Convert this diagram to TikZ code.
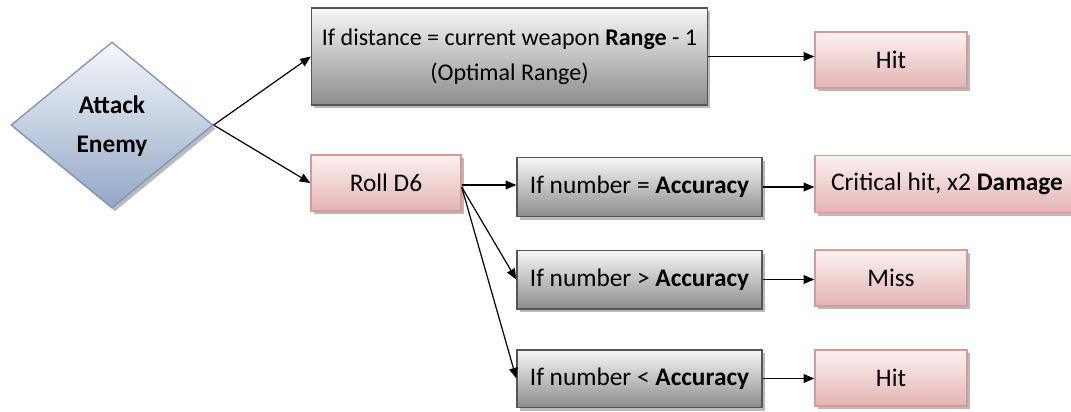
\documentclass[tikz,border=0pt]{standalone}
\usepackage{fontspec}
\setmainfont{Carlito}
\usetikzlibrary{shapes.geometric,shadows,arrows.meta}
\definecolor{grayedge}{HTML}{555555}
\definecolor{graytop}{HTML}{F7F7F7}
\definecolor{graybot}{HTML}{8C8C8C}
\definecolor{pinkedge}{HTML}{D69A99}
\definecolor{pinktop}{HTML}{FDF1F1}
\definecolor{pinkbot}{HTML}{E2B4B3}
\definecolor{blueedge}{HTML}{7D95B8}
\definecolor{bluetop}{HTML}{F6F8FB}
\definecolor{bluebot}{HTML}{93A7C6}
\tikzset{
  base/.style={draw, line width=1pt, inner sep=2pt, align=center,
    font=\fontsize{19}{26.5}\selectfont,
    drop shadow={shadow xshift=2.2pt, shadow yshift=-2.6pt, opacity=0.45, fill=black!60}},
  graybox/.style={base, rectangle, draw=grayedge, top color=graytop, bottom color=graybot},
  pinkbox/.style={base, rectangle, draw=pinkedge, top color=pinktop, bottom color=pinkbot},
  decision/.style={base, diamond, draw=blueedge, top color=bluetop, bottom color=bluebot,
    inner sep=0pt, font=\fontsize{19}{29}\selectfont\bfseries},
  conn/.style={line width=0.9pt, -{Triangle[length=8pt,width=6.5pt]}}
}
\begin{document}
\begin{tikzpicture}[x=0.75pt,y=-0.75pt]
\useasboundingbox (0,0) rectangle (1071,411);
\node[decision, minimum width=151.5pt, minimum height=124.5pt] (att) at (112,125)
  {\raisebox{-4pt}{\begin{tabular}{@{}c@{}}Attack\\Enemy\end{tabular}}};
\node[graybox, inner sep=0pt, font=\fontsize{18}{26.5}\selectfont, minimum width=297pt, minimum height=72.75pt] (dist) at (509.5,56.5)
  {If distance = current weapon \textbf{Range} - 1\\(Optimal Range)};
\node[pinkbox, minimum width=114pt, minimum height=42pt] (hit1) at (891,60) {Hit};
\node[pinkbox, minimum width=112.5pt, minimum height=42pt] (roll) at (386,183) {Roll D6};
\node[graybox, minimum width=183.75pt, minimum height=44pt] (eq) at (639.5,187) {If number = \textbf{Accuracy}};
\node[graybox, minimum width=183.75pt, minimum height=44pt] (gt) at (639.5,279.5) {If number > \textbf{Accuracy}};
\node[graybox, minimum width=183.75pt, minimum height=43pt] (lt) at (639.5,378.5) {If number < \textbf{Accuracy}};
\node[pinkbox, minimum width=198pt, minimum height=42.75pt] (crit) at (947,184) {Critical hit, x2 \textbf{Damage}};
\node[pinkbox, minimum width=114pt, minimum height=42pt] (miss) at (891,278) {Miss};
\node[pinkbox, minimum width=114pt, minimum height=42pt] (hit2) at (891,378) {Hit};
\coordinate (rollout) at ([yshift=-3pt]roll.east);
\draw[conn] (att.east) -- (dist.west);
\draw[conn] (att.east) -- (roll.west);
\draw[conn] (dist.east) -- (dist.east -| hit1.west);
\draw[conn] ([yshift=-1.5pt]roll.east) -- ([yshift=-1.5pt]roll.east -| eq.west);
\draw[conn] (rollout) -- (gt.west);
\draw[conn] (rollout) -- (lt.west);
\draw[conn] (eq.east) -- (eq.east -| crit.west);
\draw[conn] (gt.east) -- (gt.east -| miss.west);
\draw[conn] (lt.east) -- (lt.east -| hit2.west);
\end{tikzpicture}
\end{document}
